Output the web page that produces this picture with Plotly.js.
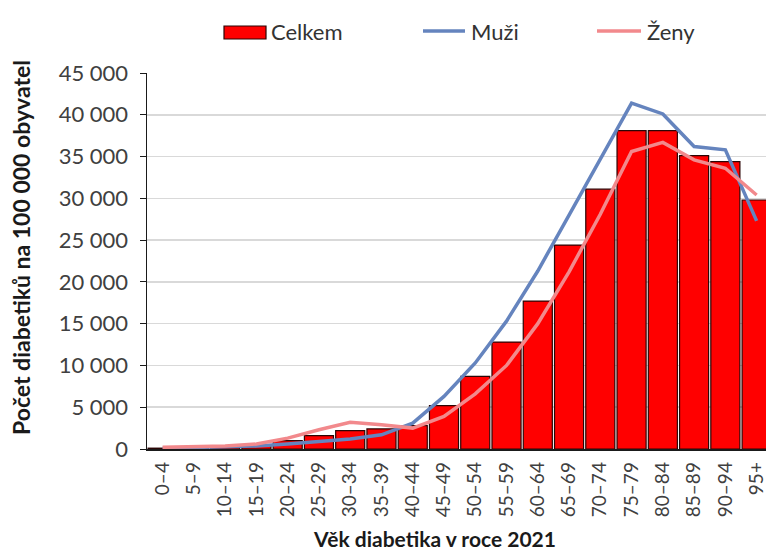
<!DOCTYPE html>
<html>
<head>
<meta charset="utf-8">
<script src="https://cdn.plot.ly/plotly-3.0.1.min.js"></script>
<style>
  html, body { margin: 0; padding: 0; background: #fff; }
  #chart { width: 766px; height: 553px; }
</style>
</head>
<body>
<div id="chart"></div>
<script>
// Age groups (5-year bands)
const ageGroups = ["0–4", "5–9", "10–14", "15–19", "20–24", "25–29", "30–34", "35–39",
  "40–44", "45–49", "50–54", "55–59", "60–64", "65–69", "70–74", "75–79",
  "80–84", "85–89", "90–94", "95+"];

// Diabetics per 100 000 inhabitants, 2021
const celkem = [100, 150, 250, 400, 1000, 1600, 2200, 2400, 2800, 5200,
  8700, 12800, 17700, 24400, 31100, 38100, 38100, 35100, 34400, 29800];
const muzi = [100, 150, 250, 350, 600, 900, 1200, 1700, 3100, 6300,
  10300, 15300, 21300, 28000, 34800, 41400, 40100, 36200, 35800, 27300];
const zeny = [200, 250, 350, 600, 1300, 2300, 3200, 2900, 2500, 3900,
  6600, 10000, 15000, 21200, 28100, 35600, 36700, 34600, 33600, 30400];

const yTicks = [0, 5000, 10000, 15000, 20000, 25000, 30000, 35000, 40000, 45000];

const seriesNames = ["Celkem", "Muži", "Ženy"];
const seriesColors = ["#FF0000", "#6584BE", "#F2898C"];

const FONT = "Lato, 'Open Sans', 'DejaVu Sans', sans-serif";

// Plot area geometry (px) used to place the legend key and the axis titles
const W = 766, H = 553;
const M = { l: 147, r: 0, t: 73, b: 104 };
const plotW = W - M.l - M.r, plotH = H - M.t - M.b;
const px = x => (x - M.l) / plotW;
const py = y => (H - M.b - y) / plotH;

const traces = [
  {
    type: "bar",
    name: seriesNames[0],
    x: ageGroups,
    y: celkem,
    marker: { color: seriesColors[0], line: { color: "#2b0505", width: 1.2 } },
    showlegend: false
  },
  {
    type: "scatter",
    mode: "lines",
    name: seriesNames[1],
    x: ageGroups,
    y: muzi,
    line: { color: seriesColors[1], width: 3.5 },
    showlegend: false
  },
  {
    type: "scatter",
    mode: "lines",
    name: seriesNames[2],
    x: ageGroups,
    y: zeny,
    line: { color: seriesColors[2], width: 3.5 },
    showlegend: false
  }
];

// Legend key across the top: a filled box for the bars, short strokes for the lines
const keyY = 31;
const legendShapes = [
  { type: "rect", xref: "paper", yref: "paper",
    x0: px(224), x1: px(266), y0: py(39), y1: py(26),
    fillcolor: seriesColors[0], line: { color: "#2b0505", width: 1.2 } },
  { type: "line", xref: "paper", yref: "paper",
    x0: px(423), x1: px(465), y0: py(keyY), y1: py(keyY),
    line: { color: seriesColors[1], width: 3.5 } },
  { type: "line", xref: "paper", yref: "paper",
    x0: px(597), x1: px(641), y0: py(keyY), y1: py(keyY),
    line: { color: seriesColors[2], width: 3.5 } }
];
const legendLabels = [269, 469, 645].map((x, i) => ({
  text: seriesNames[i],
  xref: "paper", yref: "paper",
  x: px(x), y: py(keyY),
  xanchor: "left", yanchor: "middle",
  showarrow: false,
  font: { family: FONT, size: 22, color: "#333333" }
}));

const layout = {
  width: W,
  height: H,
  margin: M,
  paper_bgcolor: "#ffffff",
  plot_bgcolor: "#ffffff",
  separators: ", ",
  font: { family: FONT, color: "#404040", size: 18 },
  bargap: 0.07,
  showlegend: false,
  xaxis: {
    type: "category",
    range: [-0.5, 19.3],
    tickangle: -90,
    showgrid: false,
    showline: true,
    linecolor: "#1a1a1a",
    linewidth: 1.5,
    ticks: "",
    ticklabelstandoff: 4,
    tickfont: { family: FONT, size: 19, color: "#404040" },
    fixedrange: true
  },
  yaxis: {
    range: [0, 45000],
    tickvals: yTicks,
    tickformat: ",d",
    showgrid: true,
    gridcolor: "#d9d9d9",
    gridwidth: 1.5,
    showline: true,
    linecolor: "#1a1a1a",
    linewidth: 1.5,
    ticks: "outside",
    ticklen: 6,
    tickcolor: "#1a1a1a",
    ticklabelstandoff: 7,
    tickfont: { family: FONT, size: 22, color: "#404040" },
    zeroline: false,
    fixedrange: true
  },
  shapes: legendShapes,
  annotations: legendLabels.concat([
    {
      text: "<b>Počet diabetiků na 100 000 obyvatel</b>",
      xref: "paper", yref: "paper",
      x: px(21), y: py(248),
      xanchor: "center", yanchor: "middle",
      textangle: -90,
      showarrow: false,
      font: { family: FONT, size: 23, color: "#1a1a1a" }
    },
    {
      text: "<b>Věk diabetika v roce 2021</b>",
      xref: "paper", yref: "paper",
      x: px(434), y: py(553),
      xanchor: "center", yanchor: "bottom",
      showarrow: false,
      font: { family: FONT, size: 21, color: "#1a1a1a" }
    }
  ])
};

Plotly.newPlot("chart", traces, layout, { staticPlot: true, displayModeBar: false });
</script>
</body>
</html>
